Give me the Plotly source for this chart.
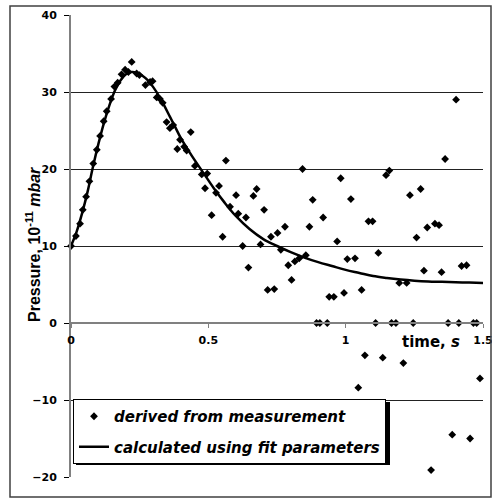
import plotly.graph_objects as go

# measured points (time s, pressure 1e-11 mbar)
meas_t = [0.0, 0.018, 0.033, 0.043, 0.055, 0.067, 0.081, 0.094, 0.106, 0.119, 0.13, 0.146, 0.158, 0.17,
          0.184, 0.197, 0.209, 0.221, 0.239, 0.249, 0.271, 0.288, 0.297, 0.312, 0.324, 0.334, 0.348, 0.36,
          0.372, 0.387, 0.397, 0.412, 0.421, 0.436, 0.451, 0.476, 0.488, 0.496, 0.512, 0.528, 0.539,
          0.552, 0.564, 0.579, 0.601, 0.609, 0.625, 0.637, 0.646, 0.664, 0.676, 0.69, 0.703, 0.716,
          0.728, 0.74, 0.752, 0.764, 0.779, 0.791, 0.803, 0.815, 0.831, 0.843, 0.855, 0.868, 0.88,
          0.894, 0.906, 0.918, 0.933, 0.94, 0.957, 0.969, 0.982, 0.994, 1.006, 1.019, 1.034, 1.046,
          1.058, 1.07, 1.083, 1.098, 1.109, 1.119, 1.135, 1.147, 1.159, 1.167, 1.183, 1.195, 1.21,
          1.222, 1.234, 1.246, 1.258, 1.273, 1.285, 1.297, 1.311, 1.325, 1.34, 1.349, 1.362, 1.373,
          1.388, 1.402, 1.412, 1.422, 1.44, 1.453, 1.465, 1.477, 1.489]
meas_p = [10.0, 11.3, 12.9, 14.7, 16.4, 18.4, 20.7, 22.5, 24.3, 26.2, 27.5, 29.1, 30.7, 31.2,
          32.3, 32.9, 32.6, 33.9, 32.4, 32.2, 30.9, 31.3, 31.4, 29.3, 29.1, 28.6, 26.1, 25.3,
          25.7, 22.6, 23.8, 22.9, 22.4, 24.8, 20.4, 19.3, 17.5, 19.4, 14.0, 16.9, 17.8,
          11.2, 21.1, 15.1, 16.6, 14.2, 10.0, 13.7, 7.2, 16.5, 17.4, 10.2, 14.7, 4.3,
          11.2, 4.4, 11.7, 9.5, 12.5, 7.5, 5.6, 8.0, 8.4, 20.0, 8.8, 12.5, 16.0,
          0.0, 0.0, 13.7, 0.0, 3.4, 3.4, 10.6, 18.8, 3.9, 8.3, 16.1, 8.4, -8.4,
          4.3, -4.2, 13.2, 13.2, 0.0, 9.1, -4.5, 19.2, 19.8, 0.0, 0.0, 5.2, -5.2,
          5.2, 16.6, 0.0, 11.1, 17.4, 6.8, 12.4, -19.1, 12.9, 12.7, 6.6, 21.3, 0.0,
          -14.5, 29.0, 0.0, 7.4, 7.5, -15.0, 0.0, 0.0, -7.2]

# fitted curve
fit_t = [0.0, 0.02, 0.04, 0.06, 0.08, 0.1, 0.12, 0.14, 0.16, 0.18, 0.2, 0.22, 0.24, 0.26, 0.28,
         0.3, 0.32, 0.34, 0.36, 0.38, 0.4, 0.44, 0.48, 0.52, 0.56, 0.6, 0.65, 0.7, 0.75, 0.8,
         0.85, 0.9, 0.95, 1.0, 1.05, 1.1, 1.15, 1.2, 1.25, 1.3, 1.35, 1.4, 1.45, 1.5]
fit_p = [10.0, 11.8, 14.2, 17.0, 20.3, 23.3, 26.0, 28.3, 30.2, 31.5, 32.3, 32.6, 32.5, 32.1, 31.5,
         30.6, 29.5, 28.2, 26.8, 25.4, 24.0, 21.7, 19.6, 17.5, 15.6, 13.9, 12.2, 10.9, 10.0, 9.2,
         8.5, 7.9, 7.4, 6.9, 6.5, 6.1, 5.85, 5.65, 5.5, 5.4, 5.35, 5.3, 5.25, 5.2]

x_ticks = [0, 0.5, 1, 1.5]
x_ticktext = ["0", "0.5", "1", "1.5"]
y_ticks = [-20, -10, 0, 10, 20, 30, 40]

FONT = "Liberation Sans, Arial, sans-serif"
WIDE = "DejaVu Sans, Verdana, sans-serif"

# pixel helpers for paper coords (plot area: x 71..483, y 15..477)
def px(x):
    return (x - 71) / 412.0

def py(y):
    return (477 - y) / 462.0

fig = go.Figure()
fig.add_trace(go.Scatter(
    x=meas_t, y=meas_p, mode="markers", name="derived from measurement",
    marker=dict(symbol="diamond", size=6, color="black"),
    legendgroup="a", cliponaxis=False))
fig.add_trace(go.Scatter(
    x=fit_t, y=fit_p, mode="lines", name="calculated using fit parameters",
    line=dict(color="black", width=2.5, shape="spline"),
    legendgroup="b"))

fig.update_layout(
    width=492, height=498,
    margin=dict(l=71, r=9, t=15, b=21),
    paper_bgcolor="white", plot_bgcolor="white",
    font=dict(family=FONT, color="black"),
    showlegend=True,
    legend=dict(
        x=px(73), y=py(399), xanchor="left", yanchor="top",
        bgcolor="white", bordercolor="black", borderwidth=1,
        font=dict(family=WIDE, size=15, style="italic", weight="bold"),
        traceorder="grouped", tracegroupgap=8,
    ),
    xaxis=dict(
        range=[0, 1.5], anchor="free", position=1/3, automargin=False,
        tickvals=x_ticks, ticktext=x_ticktext,
        tickfont=dict(family=WIDE, size=11, weight="bold"),
        ticks="outside", ticklen=4, tickcolor="#808080", tickwidth=1,
        ticklabelstandoff=3, ticklabeloverflow="allow",
        showgrid=False, zeroline=False,
        showline=True, linecolor="#808080", linewidth=2,
    ),
    yaxis=dict(
        range=[-20, 40], tickvals=y_ticks, automargin=False,
        tickfont=dict(family=WIDE, size=11, weight="bold"),
        ticks="outside", ticklen=5, tickcolor="black", tickwidth=1,
        ticklabelstandoff=5, ticklabeloverflow="allow",
        showgrid=True, gridcolor="#222222", gridwidth=1,
        zeroline=False,
        showline=True, linecolor="#808080", linewidth=2,
    ),
    shapes=[
        # outer chart border
        dict(type="rect", xref="paper", yref="paper",
             x0=px(10), x1=px(491), y0=py(497), y1=py(6),
             line=dict(color="#404040", width=1.5), fillcolor="rgba(0,0,0,0)"),
        # legend shadow
        dict(type="rect", xref="paper", yref="paper",
             x0=px(76), x1=px(390), y0=py(465), y1=py(402),
             line=dict(width=0), fillcolor="black"),
    ],
    annotations=[
        dict(text="<b>Pressure, 10<sup>-11</sup> <i>mbar</i></b>", textangle=-90,
             xref="paper", yref="paper", x=px(33), y=py(245),
             xanchor="center", yanchor="middle", showarrow=False,
             font=dict(family=FONT, size=16, color="black")),
        dict(text="<b>time, <i>s</i></b>", xref="paper", yref="paper",
             x=px(431), y=py(342), xanchor="center", yanchor="middle", showarrow=False,
             font=dict(family=WIDE, size=15, color="black")),
    ],
)

fig.write_html("out.html", post_script="document.body.style.margin='0';",
               config={"displayModeBar": False})
